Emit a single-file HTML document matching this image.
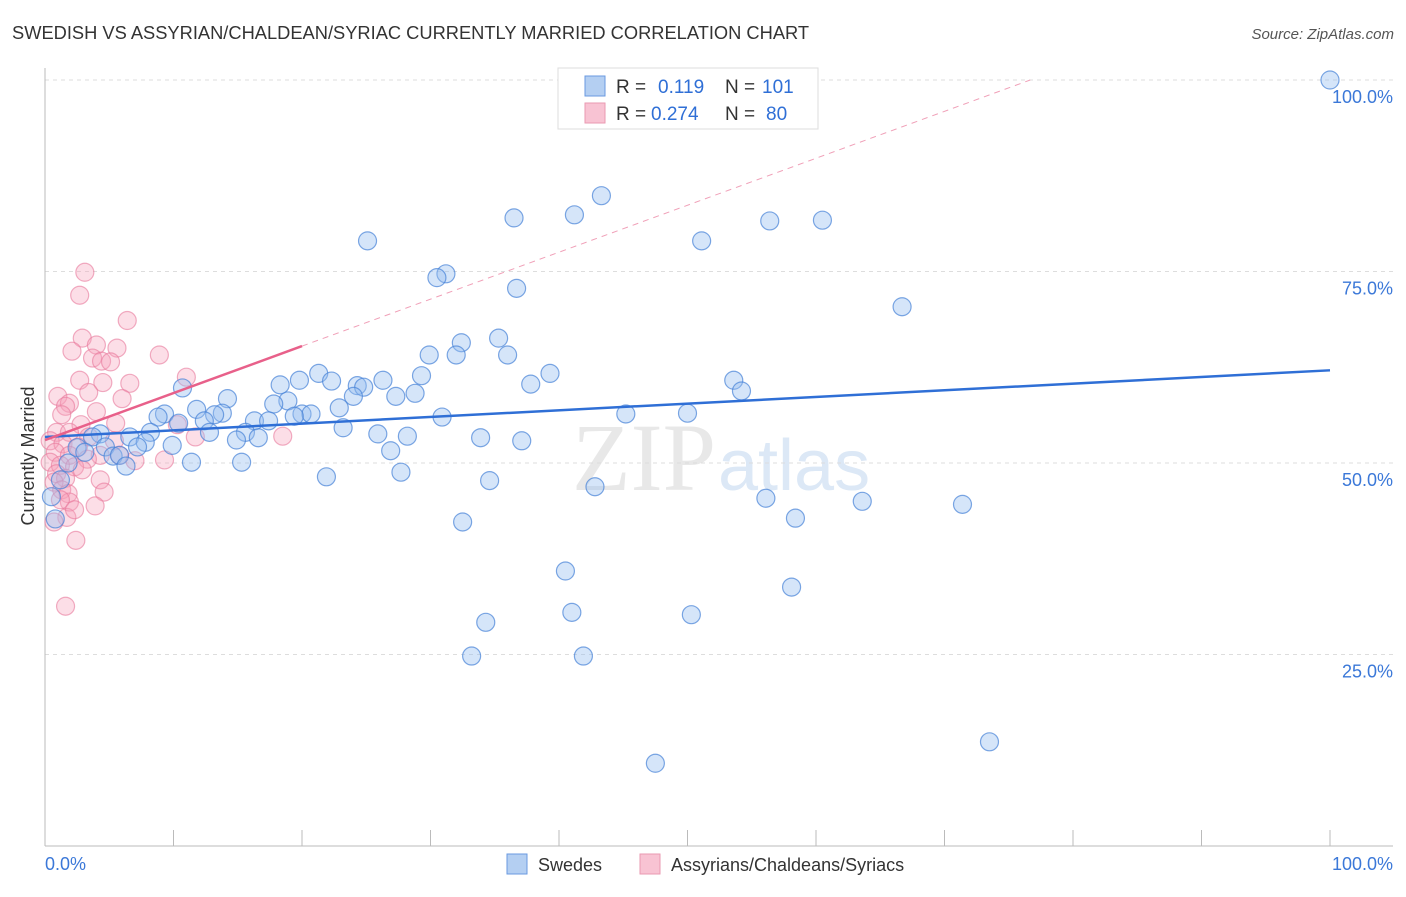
<!DOCTYPE html>
<html><head><meta charset="utf-8"><style>
body{margin:0;background:#fff;font-family:"Liberation Sans",sans-serif;}
</style></head><body>
<svg width="1406" height="892" xmlns="http://www.w3.org/2000/svg" id="svg" font-family="Liberation Sans, sans-serif">
<text x="12" y="39" font-size="18.3" fill="#333">SWEDISH VS ASSYRIAN/CHALDEAN/SYRIAC CURRENTLY MARRIED CORRELATION CHART</text>
<text x="1394" y="39" font-size="15" fill="#555" text-anchor="end" font-style="italic">Source: ZipAtlas.com</text>
<text x="716" y="490" font-size="96" fill="#e8e8e8" text-anchor="end" font-family="Liberation Serif, serif">ZIP</text>
<text x="718" y="490" font-size="72" fill="#dce8f6">atlas</text>
<g id="grid"></g><g id="axes"></g><g id="pts"></g><g id="trend"></g>
<text x="34" y="456" font-size="18" fill="#333" transform="rotate(-90 34 456)" text-anchor="middle">Currently Married</text>
<text x="45" y="870" font-size="18" fill="#3b78d8">0.0%</text>
<text x="1393" y="870" font-size="18" fill="#3b78d8" text-anchor="end">100.0%</text>
<g font-size="19">
<rect x="558" y="68" width="260" height="61" fill="#fff" stroke="#ddd"/>
<rect x="585" y="76" width="20" height="20" fill="#b4cff2" stroke="#6a9ae0"/>
<rect x="585" y="103" width="20" height="20" fill="#f8c3d3" stroke="#ea9ab2"/>
<text x="616" y="93" fill="#333">R =</text><text x="658" y="93" fill="#2f6fd6">0.119</text>
<text x="725" y="93" fill="#333">N =</text><text x="762" y="93" fill="#2f6fd6">101</text>
<text x="616" y="120" fill="#333">R =</text><text x="651" y="120" fill="#2f6fd6">0.274</text>
<text x="725" y="120" fill="#333">N =</text><text x="766" y="120" fill="#2f6fd6">80</text>
</g>
<g>
<rect x="507" y="854" width="20" height="20" fill="#b4cff2" stroke="#6a9ae0"/>
<text x="538" y="871" font-size="18" fill="#333">Swedes</text>
<rect x="640" y="854" width="20" height="20" fill="#f8c3d3" stroke="#ea9ab2"/>
<text x="671" y="871" font-size="18" fill="#333">Assyrians/Chaldeans/Syriacs</text>
</g>
</svg>
<script>
const yTicks=[25,50,75,100];
const yTickLabels=["25.0%","50.0%","75.0%","100.0%"];
const xTicks=[0,10,20,30,40,50,60,70,80,90,100];
const swedesX=[100,46.8,43.3,41.2,36.5,56.4,60.5,25.1,51.1,31.2,30.5,36.7,66.7,35.3,32.4,29.9,32.0,36.0,21.3,39.3,29.3,19.8,22.3,26.3,53.6,18.3,10.7,24.3,24.8,37.8,54.2,28.8,14.2,24.0,27.3,18.9,17.8,22.9,11.8,13.8,13.2,9.3,20.0,20.7,19.4,30.9,45.2,50.0,8.8,16.3,17.4,12.4,10.4,23.2,12.8,15.6,8.2,25.9,28.2,6.6,4.3,3.7,16.6,14.9,33.9,37.1,7.8,9.9,4.7,7.2,2.5,26.9,5.3,5.8,11.4,15.3,6.3,27.7,21.9,34.6,42.8,56.1,63.6,71.4,58.4,32.5,40.5,58.1,41.0,50.3,34.3,33.2,41.9,73.5,47.5,0.5,0.8,1.8,3.1,1.2];
const swedesY=[100,100,84.9,82.4,82.0,81.6,81.7,79.0,79.0,74.7,74.2,72.8,70.4,66.3,65.7,64.1,64.1,64.1,61.7,61.7,61.4,60.8,60.7,60.8,60.8,60.2,59.8,60.1,59.9,60.3,59.4,59.1,58.4,58.7,58.7,58.1,57.7,57.2,57.0,56.5,56.3,56.4,56.4,56.4,56.1,56.0,56.4,56.5,56.0,55.5,55.5,55.5,55.2,54.6,54.0,54.0,54.0,53.8,53.5,53.4,53.8,53.4,53.3,53.0,53.3,52.9,52.7,52.3,52.1,52.1,52.0,51.6,50.9,51.0,50.1,50.1,49.6,48.8,48.2,47.7,46.9,45.4,45.0,44.6,42.8,42.3,35.9,33.8,30.5,30.2,29.2,24.8,24.8,13.6,10.8,45.6,42.7,50.0,51.4,47.8];
const assyrX=[3.1,2.7,6.4,2.9,2.1,4.0,5.6,8.9,3.7,4.4,5.1,11.0,2.7,4.5,6.6,1.0,3.4,6.0,1.9,1.6,4.0,1.3,5.5,2.8,10.3,0.9,1.9,3.4,5.4,11.7,18.5,0.4,1.4,2.6,0.8,1.9,4.3,5.8,3.3,7.0,9.3,0.4,1.2,2.3,2.9,0.9,1.6,4.3,0.7,1.3,4.6,1.8,1.9,3.9,1.7,0.7,2.4,1.6,1.2,2.3];
const assyrY=[74.9,71.9,68.6,66.3,64.6,65.4,65.0,64.1,63.7,63.3,63.2,61.2,60.8,60.5,60.4,58.7,59.2,58.4,57.8,57.4,56.7,56.3,55.2,55.0,55.0,54.0,54.0,53.4,52.9,53.4,53.5,52.9,52.5,52.1,51.4,51.0,51.0,51.0,50.5,50.3,50.4,50.1,49.7,49.5,49.1,48.6,48.0,47.8,47.5,46.5,46.2,46.0,44.9,44.4,42.9,42.3,39.9,31.3,45.2,43.9];
const swedesTrend=[53.4,0.087];
const assyrTrend=[53.0,0.613];
const NS="http://www.w3.org/2000/svg";
const X=v=>45+v*12.85, Y=v=>846-v*7.66;
function mk(tag,attrs,parent){const e=document.createElementNS(NS,tag);for(const k in attrs)e.setAttribute(k,attrs[k]);document.getElementById(parent).appendChild(e);return e;}
yTicks.forEach((t,i)=>{
 const l=mk('line',{x1:45,x2:1393,y1:Y(t),y2:Y(t),stroke:'#ddd','stroke-dasharray':'4,4'},'grid');
 
 
 const tx=mk('text',{x:1393,y:Y(t)+23,'font-size':18,fill:'#3b78d8','text-anchor':'end'},'grid');
 tx.textContent=yTickLabels[i];
 
 
});
const ax=mk('line',{x1:45,x2:45,y1:68,y2:846,stroke:'#bbb'},'axes');


const bx=mk('line',{x1:45,x2:1393,y1:846,y2:846,stroke:'#bbb'},'axes');


xTicks.forEach(t=>{const l=mk('line',{x1:X(t),x2:X(t),y1:830,y2:846,stroke:'#bbb'},'axes');
 
 });
assyrX.forEach((v,i)=>{const c=mk('circle',{cx:X(v),cy:Y(assyrY[i]),r:9,fill:'rgba(245,160,185,0.35)',stroke:'rgba(232,120,155,0.6)','stroke-width':1.2},'pts');
 
 });
swedesX.forEach((v,i)=>{const c=mk('circle',{cx:X(v),cy:Y(swedesY[i]),r:9,fill:'rgba(150,190,240,0.4)',stroke:'rgba(70,130,215,0.7)','stroke-width':1.2},'pts');
 
 });
const sw=mk('line',{x1:X(0),y1:Y(swedesTrend[0]),x2:X(100),y2:Y(swedesTrend[0]+100*swedesTrend[1]),stroke:'#2f6fd6','stroke-width':2.5},'trend');


const xEnd=(100-assyrTrend[0])/assyrTrend[1];
const ad=mk('line',{x1:X(20),y1:Y(assyrTrend[0]+20*assyrTrend[1]),x2:X(xEnd),y2:Y(100),stroke:'#f0a0b8','stroke-width':1,'stroke-dasharray':'6,5'},'trend');


const as=mk('line',{x1:X(0),y1:Y(assyrTrend[0]),x2:X(20),y2:Y(assyrTrend[0]+20*assyrTrend[1]),stroke:'#e8608a','stroke-width':2.5},'trend');


</script>
</body></html>
